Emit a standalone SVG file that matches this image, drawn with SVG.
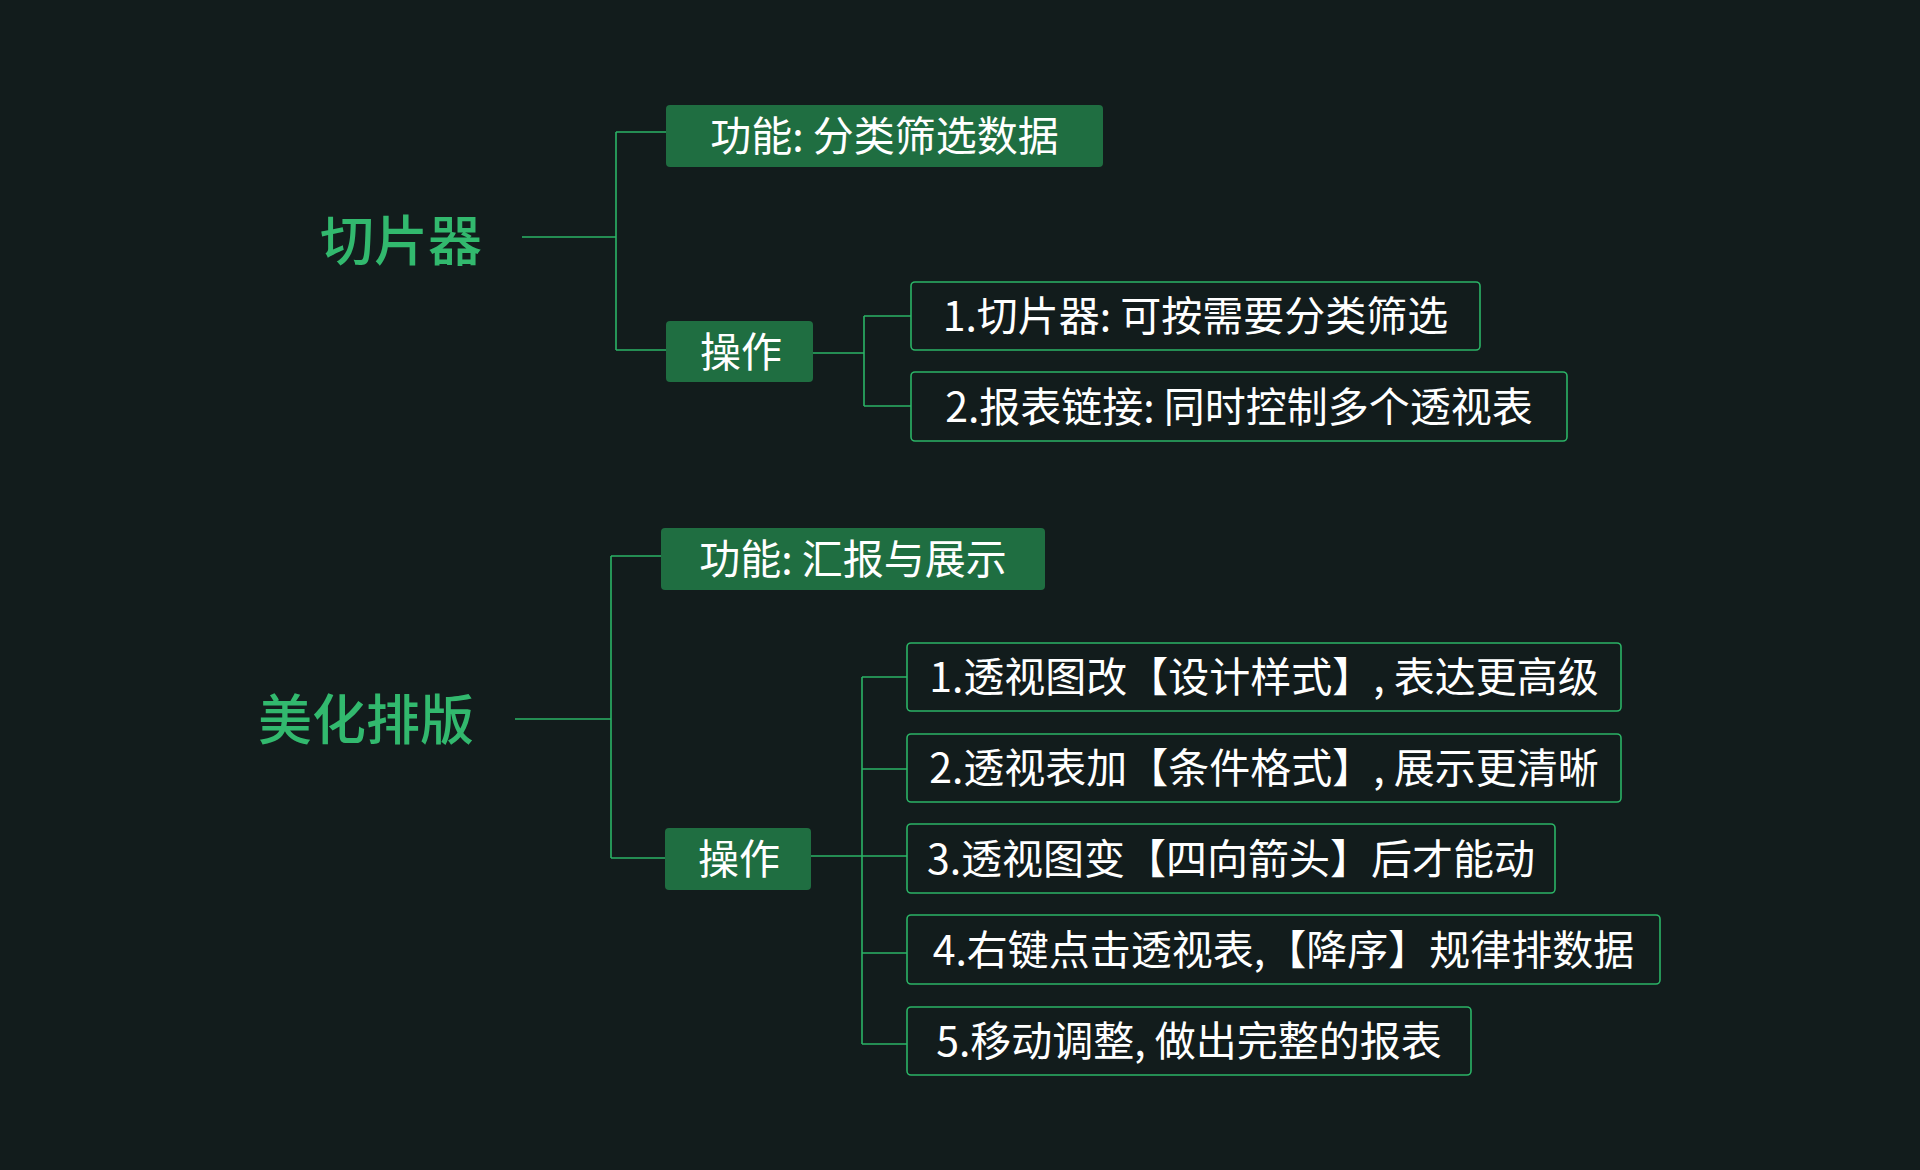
<svg xmlns="http://www.w3.org/2000/svg" width="1920" height="1170" viewBox="0 0 1920 1170">
<style>
.bg{fill:#121c1c}
.root{font-family:"Noto Sans CJK SC","Noto Sans",sans-serif;font-size:54px;font-weight:500;fill:#32b96e}
.fill{fill:#1f6e41}
.out{fill:#121c1c;stroke:#2bb366;stroke-width:1.6}
.t{font-family:"Noto Sans CJK SC","Noto Sans",sans-serif;font-size:41px;fill:#ffffff}
.c{fill:none;stroke:#2bb366;stroke-width:1.6}
</style>
<rect class="bg" x="0" y="0" width="1920" height="1170"/>
<g id="connectors">
<path class="c" d="M522 237H616M616 132V350M616 132H666M616 350H666"/>
<path class="c" d="M813 353H864M864 316V406M864 316H911M864 406H911"/>
<path class="c" d="M515 719H611M611 556V858M611 556H661M611 858H665"/>
<path class="c" d="M811 856H862M862 677V1044M862 677H907M862 769H907M862 856H907M862 953H907M862 1044H907"/>
</g>
<g id="n-root1"><text class="root" x="401" y="237" text-anchor="middle" dominant-baseline="central">切片器</text></g>
<g id="n-func1"><rect class="fill" x="666" y="105" width="437" height="62" rx="4"/><text class="t" x="884.5" y="133" text-anchor="middle" dominant-baseline="central">功能: 分类筛选数据</text></g>
<g id="n-op1"><rect class="fill" x="666" y="321" width="147" height="61" rx="4"/><text class="t" x="741" y="348.5" text-anchor="middle" dominant-baseline="central">操作</text></g>
<g id="n-op1-1"><rect class="out" x="911" y="282" width="569" height="68" rx="4"/><text class="t" x="1195.5" y="313" text-anchor="middle" dominant-baseline="central">1.切片器: 可按需要分类筛选</text></g>
<g id="n-op1-2"><rect class="out" x="911" y="372" width="656" height="69" rx="4"/><text class="t" x="1239" y="403.5" text-anchor="middle" dominant-baseline="central">2.报表链接: 同时控制多个透视表</text></g>
<g id="n-root2"><text class="root" x="366" y="716" text-anchor="middle" dominant-baseline="central">美化排版</text></g>
<g id="n-func2"><rect class="fill" x="661" y="528" width="384" height="62" rx="4"/><text class="t" x="853" y="556" text-anchor="middle" dominant-baseline="central">功能: 汇报与展示</text></g>
<g id="n-op2"><rect class="fill" x="665" y="828" width="146" height="62" rx="4"/><text class="t" x="739" y="856" text-anchor="middle" dominant-baseline="central">操作</text></g>
<g id="n-op2-1"><rect class="out" x="907" y="643" width="714" height="68" rx="4"/><text class="t" x="1264" y="674" text-anchor="middle" dominant-baseline="central">1.透视图改【设计样式】, 表达更高级</text></g>
<g id="n-op2-2"><rect class="out" x="907" y="734" width="714" height="68" rx="4"/><text class="t" x="1264" y="765" text-anchor="middle" dominant-baseline="central">2.透视表加【条件格式】, 展示更清晰</text></g>
<g id="n-op2-3"><rect class="out" x="907" y="824" width="648" height="69" rx="4"/><text class="t" x="1231" y="855.5" text-anchor="middle" dominant-baseline="central">3.透视图变【四向箭头】后才能动</text></g>
<g id="n-op2-4"><rect class="out" x="907" y="915" width="753" height="69" rx="4"/><text class="t" x="1283.5" y="946.5" text-anchor="middle" dominant-baseline="central">4.右键点击透视表,【降序】规律排数据</text></g>
<g id="n-op2-5"><rect class="out" x="907" y="1007" width="564" height="68" rx="4"/><text class="t" x="1189" y="1038" text-anchor="middle" dominant-baseline="central">5.移动调整, 做出完整的报表</text></g>
</svg>
